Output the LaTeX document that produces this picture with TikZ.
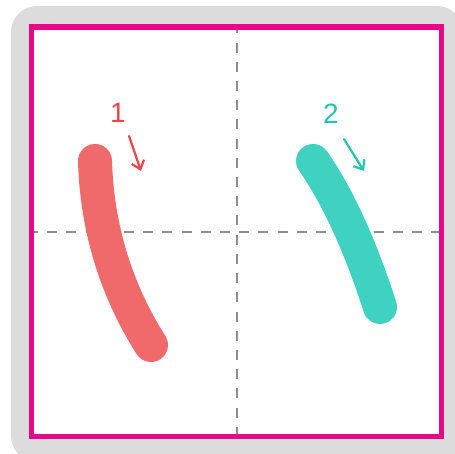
\documentclass[tikz,border=0pt]{standalone}
\usepackage{fontspec}
\setmainfont{Liberation Sans}
\usetikzlibrary{arrows.meta}
\definecolor{bggrey}{HTML}{DCDCDC}
\definecolor{frame}{HTML}{E8078A}
\definecolor{guide}{HTML}{8E8E8E}
\definecolor{redstroke}{HTML}{F06A6B}
\definecolor{rednum}{HTML}{EE4548}
\definecolor{tealstroke}{HTML}{40D2C0}
\definecolor{tealnum}{HTML}{22C5AE}
\tikzset{
  brush/.style={line width=34pt, line cap=round},
  hint/.style={line width=2.2pt, line cap=round, -{Straight Barb[length=8pt,width=13pt,line width=2.2pt]}},
  numlabel/.style={font=\fontsize{28}{28}\selectfont, inner sep=0pt},
  guideline/.style={guide, line width=2pt, dash pattern=on 10pt off 9.2pt, dash phase=3.5pt},
}
\begin{document}
\begin{tikzpicture}[x=1pt,y=-1pt]
\useasboundingbox (0,0) rectangle (455,454);
\begin{scope}
\clip (0,0) rectangle (455,454);
\fill[bggrey, rounded corners=26pt] (11,6) rectangle (463,462);
\end{scope}
\fill[white] (31.5,27) rectangle (441.5,436.5);
\draw[guideline] (31.5,231.75) -- (441.5,231.75);
\draw[guideline] (236.5,27) -- (236.5,436.5);
\draw[frame, line width=5.5pt] (31.5,27) rectangle (441.5,436.5);
% stroke 1
\coordinate (s1a) at (95,161);
\coordinate (s1b) at (151,345);
\draw[brush, redstroke] (s1a) .. controls (97,228) and (116,290) .. (s1b);
\node[numlabel, text=rednum] (n1) at (118,113) {1};
\coordinate (a1s) at (129,136);
\coordinate (a1e) at (141,171);
\draw[hint, rednum] (a1s) -- (a1e);
% stroke 2
\coordinate (s2a) at (313,161);
\coordinate (s2b) at (380,307);
\draw[brush, tealstroke] (s2a) .. controls (337.7,196.3) and (360,245) .. (s2b);
\node[numlabel, text=tealnum] (n2) at (331,114) {2};
\coordinate (a2s) at (344,139);
\coordinate (a2e) at (364,171);
\draw[hint, tealnum] (a2s) -- (a2e);
\end{tikzpicture}
\end{document}
